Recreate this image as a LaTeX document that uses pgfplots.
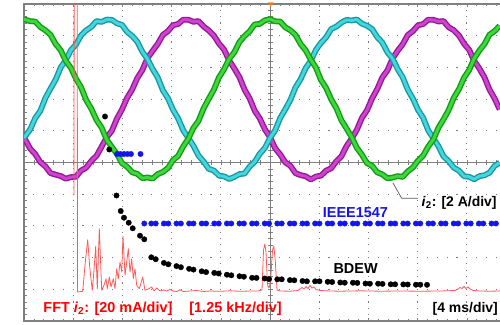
\documentclass[border=0pt]{standalone}
\usepackage{pgfplots}
\usepackage{pgfplotstable}
\pgfplotsset{compat=1.18}
\usepackage{fontspec}
\setmainfont{Liberation Sans}
\definecolor{gdark}{HTML}{159A15}
\definecolor{glight}{HTML}{3CD83C}
\definecolor{cdark}{HTML}{1A98A0}
\definecolor{clight}{HTML}{44D6DE}
\definecolor{mdark}{HTML}{941A94}
\definecolor{mlight}{HTML}{D042D0}
\definecolor{fftred}{HTML}{FF5A5A}
\definecolor{dotblue}{HTML}{1414F0}
\definecolor{gridgray}{HTML}{7A7A7A}

\pgfplotstableread{
x g c m
24.0 304.8 186.1 186.7
30.1 302.8 194.4 175.4
35.2 302.5 205.8 169.9
40.3 297.0 213.1 161.9
45.4 293.7 225.9 157.6
50.5 289.2 235.4 150.9
55.6 280.1 244.3 149.3
60.7 273.7 256.5 148.0
65.8 263.1 264.0 145.3
70.9 256.1 273.8 146.9
76.0 245.2 279.5 147.3
81.1 236.6 288.7 153.5
86.2 223.9 293.6 156.3
91.4 215.1 297.2 163.2
96.5 204.0 302.9 168.1
101.6 196.4 302.1 177.3
106.7 184.3 304.4 186.7
111.8 177.1 304.2 193.2
116.9 170.1 300.7 205.3
122.0 160.8 299.1 214.6
127.1 157.3 292.1 226.1
132.2 151.7 288.0 234.5
137.3 150.1 282.3 245.9
142.4 145.8 272.2 254.0
147.5 146.5 265.0 265.9
152.6 145.4 255.0 273.1
157.7 149.8 246.6 280.0
162.8 152.0 233.8 289.0
167.9 155.9 225.8 292.8
173.0 163.8 214.3 298.8
178.1 168.1 205.6 300.0
183.2 177.5 193.7 304.3
188.3 185.1 186.1 304.3
193.4 196.0 178.2 302.2
198.5 203.0 168.4 302.9
203.6 215.6 162.5 297.5
208.7 225.1 155.2 293.6
213.8 234.2 153.5 288.5
219.0 246.7 148.4 280.4
224.1 254.7 147.6 274.3
229.2 265.2 145.0 263.5
234.3 271.7 147.1 255.5
239.4 281.9 149.9 246.9
244.5 287.9 150.4 234.5
249.6 292.6 157.3 225.6
254.7 299.6 162.2 213.3
259.8 300.1 170.2 205.5
264.9 303.7 176.1 194.6
270.0 304.9 186.0 186.8
275.1 302.7 193.6 175.8
280.2 302.4 206.0 169.5
285.3 296.7 214.7 161.7
290.4 293.7 224.1 158.2
295.5 289.1 236.6 150.8
300.6 280.0 244.8 148.9
305.7 273.6 256.0 147.7
310.8 264.3 263.2 144.5
315.9 256.4 274.1 147.4
321.0 243.9 281.2 148.4
326.1 236.1 286.6 153.4
331.2 224.6 295.0 155.7
336.4 215.7 297.5 162.8
341.5 203.5 301.5 167.8
346.6 195.4 304.1 178.0
351.7 186.8 303.5 185.5
356.8 176.2 304.5 194.1
361.9 169.3 300.3 206.1
367.0 160.9 298.3 213.7
372.1 158.1 294.9 225.6
377.2 151.7 286.9 234.9
382.3 149.6 281.5 246.6
387.4 145.7 271.7 253.6
392.5 146.4 265.4 265.4
397.6 147.9 255.0 273.2
402.7 147.1 246.7 279.8
407.8 152.7 234.2 289.0
412.9 156.5 225.4 292.9
418.0 163.4 214.1 298.7
423.1 168.3 206.2 299.9
428.2 177.4 193.6 304.3
433.3 184.3 185.7 304.2
438.4 196.2 177.9 302.5
443.5 204.6 167.6 302.9
448.6 213.8 163.0 296.8
453.8 226.3 156.3 293.8
458.9 234.7 153.4 288.6
464.0 246.2 147.8 280.3
469.1 253.9 147.2 274.2
474.2 265.5 144.7 263.2
479.3 273.4 147.8 255.5
484.4 279.8 148.7 246.8
489.5 289.3 151.3 234.4
494.6 292.9 158.1 225.5
499.7 298.2 161.3 214.5
}\waves

\begin{document}
\begin{tikzpicture}[x=1bp,y=1bp]
\fill[white] (0,0) rectangle (500,324);
\path[use as bounding box] (0,0) rectangle (500,324);
% dotted graticule
\foreach \gx in {73.2,122.4,171.6,220.8,319.2,368.4,417.6,466.8}
  \foreach \gy in {9.34,15.68,...,316}
    \fill[gridgray] (\gx-0.55,\gy-0.55) rectangle (\gx+0.55,\gy+0.55);
\foreach \gy in {34.7,66.4,98.1,129.8,193.2,224.9,256.6,288.3}
  \foreach \gx in {33.84,43.68,...,500}
    \fill[gridgray] (\gx-0.55,\gy-0.55) rectangle (\gx+0.55,\gy+0.55);
% centre cross with ticks (under the traces)
\draw[gray, line width=0.7bp] (270,3) -- (270,320);
\draw[gray, line width=0.7bp] (24,161.5) -- (516,161.5);
\foreach \yy in {3,9.34,...,320} \draw[gray, line width=0.5bp] (267.5,\yy) -- (272.5,\yy);
\foreach \xx in {24,33.84,...,500} \draw[gray, line width=0.5bp] (\xx,159) -- (\xx,164);
\begin{axis}[
  at={(24bp,3bp)}, anchor=south west,
  scale only axis, width=492bp, height=317bp,
  xmin=24, xmax=516, ymin=3, ymax=320,
  xtick={24,73.2,122.4,171.6,220.8,270,319.2,368.4,417.6,466.8,516},
  ytick={3,34.7,66.4,98.1,129.8,161.5,193.2,224.9,256.6,288.3,320},
  xticklabels={}, yticklabels={},
  minor x tick num=4, minor y tick num=4,
  tick align=inside, major tick length=3bp, minor tick length=2.5bp,
  tick style={gray, line width=0.5bp},
  axis line style={gray, line width=1.1bp},
  clip=true,
]
% three phase currents
\addplot[mdark, line width=5.8bp, line join=round] table[x=x, y=m] {\waves};
\addplot[mlight, line width=3bp, line join=round] table[x=x, y=m] {\waves};
\addplot[cdark, line width=5.8bp, line join=round] table[x=x, y=c] {\waves};
\addplot[clight, line width=3bp, line join=round] table[x=x, y=c] {\waves};
\addplot[gdark, line width=5.8bp, line join=round] table[x=x, y=g] {\waves};
\addplot[glight, line width=3bp, line join=round] table[x=x, y=g] {\waves};
% FFT of i2
\addplot[fftred, line width=0.8bp, line join=round] coordinates {
(74,129) (74.2,374) (77.2,374) (77.5,32) (82.7,32.7) (85.5,64) (87.7,84.3) (89.8,56)
(92.3,33.7) (94,54) (95.7,77.7) (97.3,35.3) (99.3,95.3) (101.7,33.7) (104,38.7)
(106,45.3) (107.3,35.3) (109.3,47) (111,37) (113.3,45.3) (115,35.3) (116.7,55.3)
(118.3,45.3) (120,62) (121.7,52) (123,88) (125,48.7) (126.7,62) (128.3,75.3)
(130,52) (131.7,65.3) (133.3,45.3) (135,55.3) (136.7,38.7) (139.3,35.3) (142.7,47)
(145,33.7) (148.3,35) (151.7,37) (154,33) (156.7,36) (160,33) (163.3,34) (166.7,33)
(170,34.5) (173.3,33) (176.7,32.5) (180,34.2) (183.3,32.5) (190,33) (196.7,33.5)
(203.3,32.5) (210,33) (220,32.7) (230,33.2) (240,32.7) (250,33) (258,33) (262,34)
(263.5,74) (264.8,80) (266,72) (267.5,39) (269,36) (270.5,42) (272.5,74) (273.8,78)
(275.2,64) (277,34) (280,33) (290,32.8) (298,33.5) (300,35) (302,36.5) (304,35)
(306,37.5) (308,35.5) (310,38.5) (312,36) (314,37) (316,34.5) (320,33.5) (330,33)
(340,32.8) (360,33.2) (380,32.8) (400,33) (420,32.8) (440,33) (455,33.5) (458,35)
(460,36.5) (462,35.5) (464,37.5) (466,35.5) (468,37) (470,35) (473,33.5) (480,33)
(490,32.8) (500,33)
};
% IEEE1547 limits
\addplot[only marks, mark=*, mark size=2.7pt, dotblue, mark options={fill=dotblue, draw=dotblue}] coordinates {
(117,170) (120.5,170) (124,170) (127.5,170) (131,170) (140.5,170)
(144.3,100.5)
(151.3,100.5) (155.7,100.5) (163.9,100.5) (168.3,100.5) (176.5,100.5) (180.9,100.5)
(189.1,100.5) (193.5,100.5) (201.7,100.5) (206.1,100.5) (214.3,100.5) (218.7,100.5)
(226.9,100.5) (231.3,100.5) (239.5,100.5) (243.9,100.5) (252.1,100.5) (256.5,100.5)
(264.7,100.5) (269.1,100.5) (277.3,100.5) (281.7,100.5) (289.9,100.5) (294.3,100.5)
(302.5,100.5) (306.9,100.5) (315.1,100.5) (319.5,100.5) (327.7,100.5) (332.1,100.5)
(340.3,100.5) (344.7,100.5) (352.9,100.5) (357.3,100.5) (365.5,100.5) (369.9,100.5)
(378.1,100.5) (382.5,100.5) (390.7,100.5) (395.1,100.5) (403.3,100.5) (407.7,100.5)
(415.9,100.5) (420.3,100.5) (428.5,100.5) (432.9,100.5) (441.1,100.5) (445.5,100.5)
(453.7,100.5) (458.1,100.5) (466.3,100.5) (470.7,100.5) (478.9,100.5) (483.3,100.5)
(491.5,100.5) (495.9,100.5)
};
% BDEW limits
\addplot[only marks, mark=*, mark size=2.7pt, black, mark options={fill=black, draw=black}] coordinates {
(105,207.5) (109.3,174.5) (116.5,128.5) (120.7,113) (124,106.3) (128.7,101.3)
(132.7,95.7) (140,88.3) (144.3,84.7)
(151.3,66.7) (155.7,64.8) (163.9,61.1) (168.3,59.7) (176.5,57.9) (180.9,56.8)
(189.1,55.2) (193.5,54.4) (201.7,52.7) (206.1,51.9) (214.3,51.1) (218.7,50.5)
(226.9,49.3) (231.3,48.7) (239.5,47.8) (243.9,47.3) (252.1,46.2) (256.5,46.1)
(264.7,45.5) (269.1,44.9) (277.3,44.7) (281.7,44.7) (289.9,43.9) (294.3,43.7)
(302.5,43.0) (306.9,42.7) (315.1,42.7) (319.5,42.7) (327.7,42.2) (332.1,42.0)
(340.3,41.5) (344.7,41.3) (352.9,41.3) (357.3,41.1) (365.5,40.5) (369.9,40.3)
(378.1,40.3) (382.5,40.1) (390.7,39.7) (395.1,39.7) (403.3,39.6) (407.7,39.5)
(415.9,39.3) (420.3,39.3) (427,39.2)
};
\end{axis}
% leader line and labels
\draw[gray!70!black, line width=0.7bp] (393,141) -- (401.7,125.7) -- (418,125.7);
\fill[orange] (268,321.5) -- (273.4,321.5) -- (270.7,317.5) -- cycle;
\begin{scope}[every node/.style={inner sep=0pt, font=\bfseries\fontsize{14.5}{16}\selectfont}]
\node[anchor=base west, text=dotblue] at (322.7,107) {IEEE1547};
\node[anchor=base west, text=black] at (333.3,50.5) {BDEW};
\node[anchor=base west, text=black, font=\bfseries\fontsize{14}{16}\selectfont] at (421.5,117.5) {\textit{i}\textsubscript{2}: [2 A/div]};
\node[anchor=base west, text=red] at (43.3,11.3) {FFT \textit{i}\textsubscript{2}: [20 mA/div]\hspace{17bp}[1.25 kHz/div]};
\node[anchor=base west, text=black, font=\bfseries\fontsize{14}{16}\selectfont] at (432.5,11.3) {[4 ms/div]};
\end{scope}
\end{tikzpicture}
\end{document}
